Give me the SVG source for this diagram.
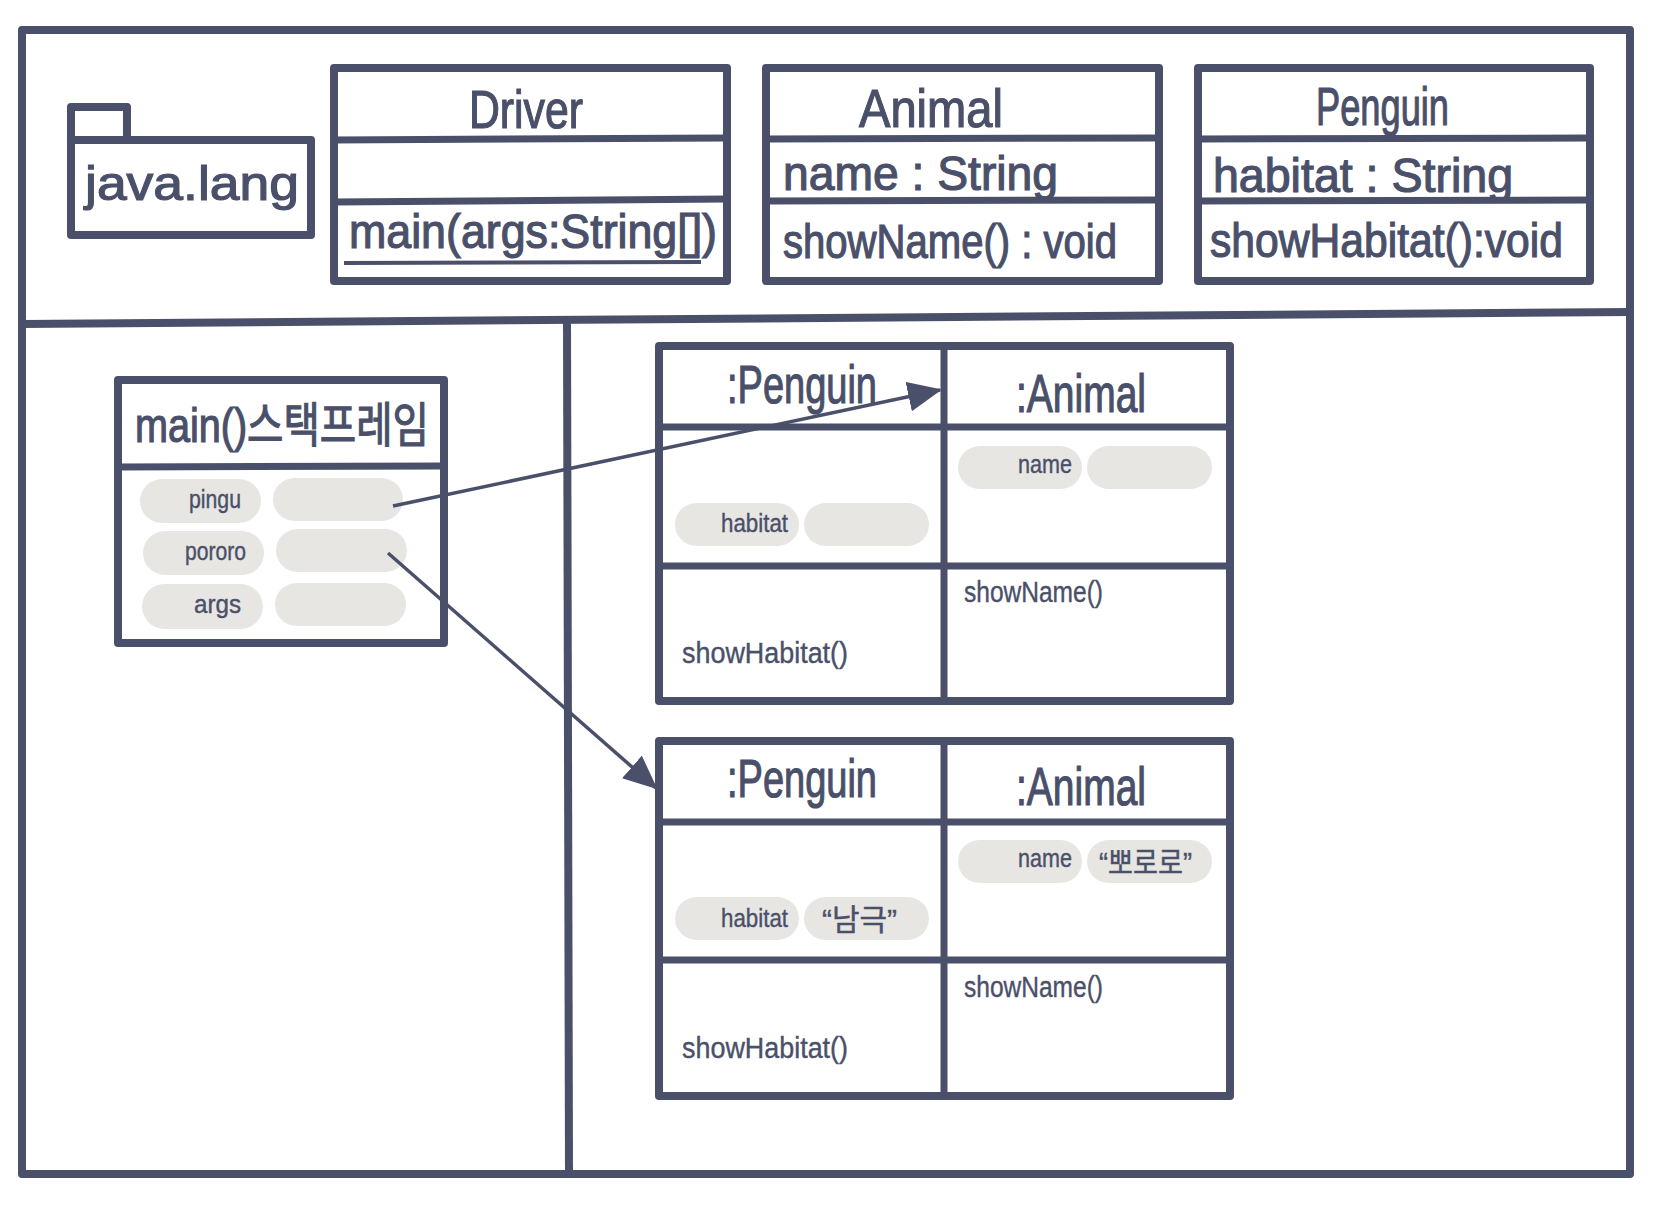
<svg xmlns="http://www.w3.org/2000/svg" width="1663" height="1221" viewBox="0 0 1663 1221">
<style>
.box{fill:none;stroke:#4a5069;stroke-width:8;stroke-linejoin:round}
.ln{stroke:#4a5069;stroke-width:7;fill:none}
.pill{fill:#e7e6e3}
text{fill:#4a5069;font-family:"Liberation Sans Narrow","Liberation Sans","Noto Sans CJK KR",sans-serif}
.big{font-size:54px;stroke:#4a5069;stroke-width:1.2}
.mid{font-size:48px;stroke:#4a5069;stroke-width:1.2}
.sm{font-size:26px;stroke:#4a5069;stroke-width:0.4}
.md{font-size:30px;stroke:#4a5069;stroke-width:0.4}
.conn{stroke:#4a5069;stroke-width:3.5;fill:none}
</style>
<defs>
<marker id="ah" markerUnits="userSpaceOnUse" markerWidth="34" markerHeight="30" refX="32" refY="15" orient="auto">
<path d="M0,0 L34,15 L0,30 z" fill="#4a5069"/>
</marker>
</defs>
<rect width="1663" height="1221" fill="#ffffff"/>
<g id="frame">
<rect class="box" x="22" y="30" width="1608" height="1144"/>
<line class="box" x1="22" y1="324" x2="1630" y2="312"/>
<line class="box" x1="567" y1="318" x2="569" y2="1174"/>
</g>
<g id="package">
<rect class="box" x="71" y="107" width="56" height="33" stroke-width="7"/>
<rect class="box" x="71" y="140" width="240" height="95" stroke-width="7"/>
<text class="mid" x="85" y="200" textLength="214" lengthAdjust="spacingAndGlyphs">java.lang</text>
</g>
<g id="driver">
<rect class="box" x="334" y="68" width="393" height="213"/>
<line class="ln" x1="334" y1="140" x2="727" y2="138"/>
<line class="ln" x1="334" y1="202" x2="727" y2="199"/>
<text class="big" x="469" y="128" textLength="114" lengthAdjust="spacingAndGlyphs">Driver</text>
<text class="mid" x="349" y="248" textLength="368" lengthAdjust="spacingAndGlyphs">main(args:String[])</text>
<line x1="344" y1="263" x2="701" y2="262" stroke="#4a5069" stroke-width="4"/>
</g>
<g id="animal-class">
<rect class="box" x="766" y="68" width="393" height="213"/>
<line class="ln" x1="766" y1="139" x2="1159" y2="138"/>
<line class="ln" x1="766" y1="201" x2="1159" y2="200"/>
<text class="big" x="859" y="127" textLength="144" lengthAdjust="spacingAndGlyphs">Animal</text>
<text class="mid" x="783" y="190" textLength="275" lengthAdjust="spacingAndGlyphs">name : String</text>
<text class="mid" x="783" y="258" textLength="334" lengthAdjust="spacingAndGlyphs">showName() : void</text>
</g>
<g id="penguin-class">
<rect class="box" x="1198" y="68" width="392" height="213"/>
<line class="ln" x1="1198" y1="139" x2="1590" y2="138"/>
<line class="ln" x1="1198" y1="201" x2="1590" y2="200"/>
<text class="big" x="1316" y="125" textLength="133" lengthAdjust="spacingAndGlyphs">Penguin</text>
<text class="mid" x="1213" y="192" textLength="300" lengthAdjust="spacingAndGlyphs">habitat : String</text>
<text class="mid" x="1210" y="257" textLength="353" lengthAdjust="spacingAndGlyphs">showHabitat():void</text>
</g>
<g id="stack-frame">
<rect class="box" x="118" y="380" width="326" height="263"/>
<line class="ln" x1="118" y1="467" x2="444" y2="466"/>
<text class="mid" x="135" y="442" textLength="294" lengthAdjust="spacingAndGlyphs">main()스택프레임</text>
<rect class="pill" x="140" y="479" width="121" height="44" rx="22"/>
<rect class="pill" x="273" y="478" width="130" height="43" rx="21.5"/>
<rect class="pill" x="143" y="531" width="121" height="44" rx="22"/>
<rect class="pill" x="276" y="529" width="131" height="43" rx="21.5"/>
<rect class="pill" x="142" y="584" width="121" height="45" rx="22.5"/>
<rect class="pill" x="275" y="583" width="131" height="43" rx="21.5"/>
<text class="sm" x="189" y="508" textLength="52" lengthAdjust="spacingAndGlyphs">pingu</text>
<text class="sm" x="185" y="560" textLength="61" lengthAdjust="spacingAndGlyphs">pororo</text>
<text class="sm" x="194" y="613" textLength="47" lengthAdjust="spacingAndGlyphs">args</text>
</g>
<g id="object-pingu">
<rect class="box" x="659" y="346" width="571" height="355"/>
<line class="ln" x1="944" y1="346" x2="944" y2="701"/>
<line class="ln" x1="659" y1="427" x2="1230" y2="427"/>
<line class="ln" x1="659" y1="566" x2="1230" y2="566"/>
<text class="big" x="727" y="403" textLength="150" lengthAdjust="spacingAndGlyphs">:Penguin</text>
<text class="big" x="1016" y="412" textLength="130" lengthAdjust="spacingAndGlyphs">:Animal</text>
<rect class="pill" x="675" y="503" width="124" height="43" rx="21.5"/>
<rect class="pill" x="804" y="503" width="125" height="43" rx="21.5"/>
<text class="sm" x="721" y="532" textLength="67" lengthAdjust="spacingAndGlyphs">habitat</text>
<rect class="pill" x="958" y="446" width="124" height="43" rx="21.5"/>
<rect class="pill" x="1087" y="446" width="125" height="43" rx="21.5"/>
<text class="sm" x="1018" y="473" textLength="54" lengthAdjust="spacingAndGlyphs">name</text>
<text class="md" x="964" y="602" textLength="139" lengthAdjust="spacingAndGlyphs">showName()</text>
<text class="md" x="682" y="663" textLength="166" lengthAdjust="spacingAndGlyphs">showHabitat()</text>
</g>
<g id="object-pororo">
<rect class="box" x="659" y="741" width="571" height="355"/>
<line class="ln" x1="944" y1="741" x2="944" y2="1096"/>
<line class="ln" x1="659" y1="822" x2="1230" y2="822"/>
<line class="ln" x1="659" y1="960" x2="1230" y2="960"/>
<text class="big" x="727" y="797" textLength="150" lengthAdjust="spacingAndGlyphs">:Penguin</text>
<text class="big" x="1016" y="805" textLength="130" lengthAdjust="spacingAndGlyphs">:Animal</text>
<rect class="pill" x="675" y="897" width="124" height="43" rx="21.5"/>
<rect class="pill" x="804" y="897" width="125" height="43" rx="21.5"/>
<text class="sm" x="721" y="927" textLength="67" lengthAdjust="spacingAndGlyphs">habitat</text>
<text class="md" x="822" y="930" textLength="75" lengthAdjust="spacingAndGlyphs">“남극”</text>
<rect class="pill" x="958" y="840" width="124" height="43" rx="21.5"/>
<rect class="pill" x="1087" y="840" width="125" height="43" rx="21.5"/>
<text class="sm" x="1018" y="867" textLength="54" lengthAdjust="spacingAndGlyphs">name</text>
<text class="md" x="1099" y="873" textLength="93" lengthAdjust="spacingAndGlyphs">“뽀로로”</text>
<text class="md" x="964" y="997" textLength="139" lengthAdjust="spacingAndGlyphs">showName()</text>
<text class="md" x="682" y="1058" textLength="166" lengthAdjust="spacingAndGlyphs">showHabitat()</text>
</g>
<g id="connectors">
<line class="conn" x1="393" y1="506" x2="940" y2="390" marker-end="url(#ah)"/>
<line class="conn" x1="388" y1="553" x2="656" y2="788" marker-end="url(#ah)"/>
</g>
</svg>
